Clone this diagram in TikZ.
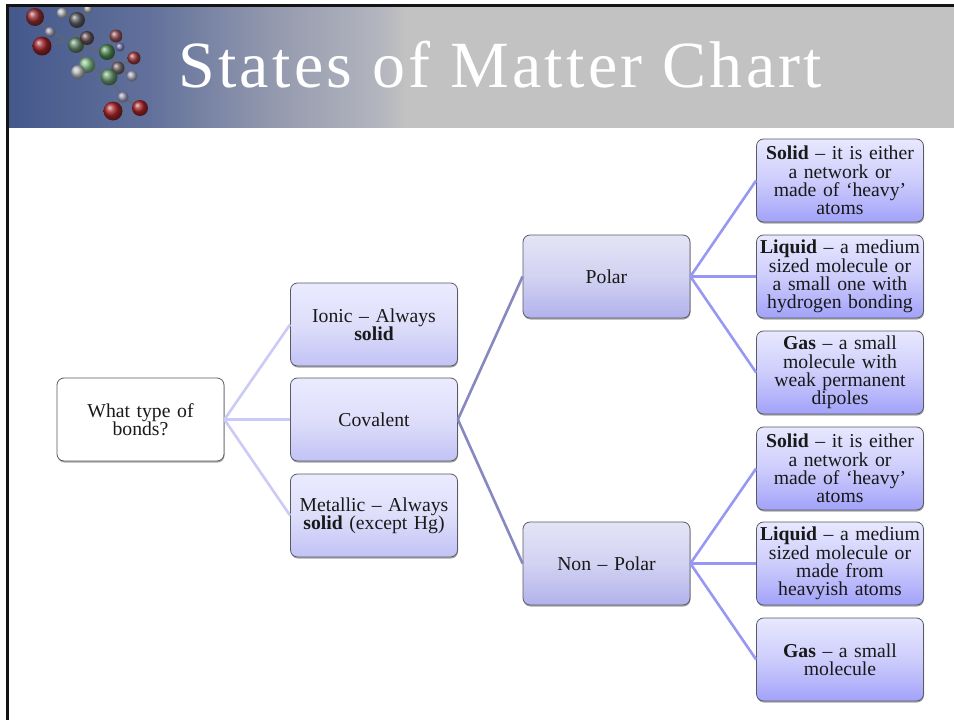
\documentclass[tikz,border=0pt]{standalone}
\usepackage{fontspec}
\setmainfont{Liberation Serif}
\usetikzlibrary{shadows,fadings}
\definecolor{hdrA}{RGB}{68,88,140}
\definecolor{hdrM}{RGB}{98,113,155}
\definecolor{hdrN}{RGB}{150,155,175}
\definecolor{hdrO}{RGB}{178,180,190}
\definecolor{hdrB}{RGB}{194,194,194}
\definecolor{lineA}{RGB}{203,203,246}
\definecolor{lineB}{RGB}{136,136,192}
\definecolor{lineC}{RGB}{152,152,244}
\definecolor{edgeK}{RGB}{90,90,100}
\pgfdeclarehorizontalshading{hdrshade}{100bp}{
 color(0bp)=(hdrA); color(25bp)=(hdrA); color(32.5bp)=(hdrM); color(39.4bp)=(hdrN); color(44.5bp)=(hdrO); color(46bp)=(hdrB); color(100bp)=(hdrB)}
\tikzset{
 x=1pt,y=-1pt,
 boxbase/.style={rounded corners=7pt,draw=edgeK,line width=.8pt,minimum width=167pt,minimum height=83pt,align=center,inner sep=1pt,text width=164pt,font=\fontsize{19.7}{18.2}\selectfont,text=black!90,
   drop shadow={shadow xshift=0.5pt,shadow yshift=-1.5pt,opacity=.35,fill=black}},
 rootbox/.style={boxbase,fill=white},
 midbox/.style={boxbase,top color=blue!8!white,bottom color={rgb,255:red,194;green,194;blue,246},middle color={rgb,255:red,222;green,222;blue,250}},
 polbox/.style={boxbase,top color={rgb,255:red,228;green,228;blue,246},bottom color={rgb,255:red,178;green,178;blue,236},middle color={rgb,255:red,210;green,210;blue,242}},
 leafbox/.style={boxbase,top color={rgb,255:red,232;green,232;blue,255},bottom color={rgb,255:red,162;green,162;blue,250},middle color={rgb,255:red,205;green,205;blue,252}},
 linkA/.style={draw=lineA,line width=2.6pt},
 linkB/.style={draw=lineB,line width=2.6pt},
 linkC/.style={draw=lineC,line width=2.6pt},
}
\newcommand{\mball}[4]{\shade[ball color=#4,opacity=.92] (#1,#2) circle[radius=#3pt];}
\begin{document}
\begin{tikzpicture}
\useasboundingbox (0,0) rectangle (954,720);
\fill[white] (0,0) rectangle (954,720);
% header
\shade[shading=hdrshade] (8,6) rectangle (954,127.5);
% molecule
\draw[black!60,line width=2pt,opacity=.6] (36,18)--(50,32)--(76,45)--(107,52)--(118,68)--(109,77)--(87,65)--(76,45)
  (87,65)--(78,72) (118,68)--(134,58) (107,52)--(116,36) (118,68)--(132,76) (109,77)--(123,97)--(113,111) (123,97)--(140,108)
  (42,46)--(62,42) (77,20)--(62,13) (77,20)--(88,9) (77,20)--(76,45);
\mball{35}{17}{9}{red!55!black!85}
\mball{62}{13}{5.5}{gray!45}
\mball{77}{20}{8}{black!65}
\mball{88}{9}{4.5}{gray!55}
\mball{50}{32}{5.5}{blue!15!gray!65}
\mball{42}{46}{9.5}{red!60!black!90}
\mball{76}{45}{8}{green!25!black!60}
\mball{87}{38}{7}{red!15!black!70}
\mball{116}{36}{6.5}{red!40!black!70}
\mball{120}{47}{4.5}{blue!40!black!50}
\mball{107}{52}{8}{green!35!black!70}
\mball{134}{58}{6.5}{red!55!black!80}
\mball{87}{65}{8}{green!35!gray!70}
\mball{78}{72}{7}{gray!45}
\mball{118}{68}{6.5}{red!12!black!60}
\mball{109}{77}{8.5}{green!35!black!60}
\mball{132}{76}{5.5}{blue!12!gray!55}
\mball{123}{97}{5.5}{blue!20!gray!60}
\mball{113}{111}{9.5}{red!65!black!90}
\mball{140}{108}{8}{red!65!black!90}
% frame
\fill[black!92] (6,4) rectangle (954,7);
\fill[black!92] (6,4) rectangle (9,720);
% title
\node[text=white,anchor=base west,inner sep=0pt,font=\fontsize{66}{66}\selectfont] (title) at (178,87) {\addfontfeature{LetterSpace=5}States of Matter Chart};
% boxes
\node[rootbox] (root) at (140.5,419.5) {What type of\\bonds?};
\node[midbox] (ionic) at (374,324.5) {Ionic – Always\\\textbf{solid}};
\node[midbox] (cov) at (374,419.5) {Covalent};
\node[midbox] (met) at (374,515.5) {Metallic – Always\\\textbf{solid} (except Hg)};
\node[polbox] (pol) at (606.5,276.5) {Polar};
\node[polbox] (non) at (606.5,563.5) {Non – Polar};
\node[leafbox] (l1) at (840,180.5) {\textbf{Solid} – it is either\\a network  or\\made of ‘heavy’\\atoms};
\node[leafbox] (l2) at (840,276.5) {\textbf{Liquid} – a medium\\sized molecule or\\a small one with\\hydrogen bonding};
\node[leafbox] (l3) at (840,372.5) {\textbf{Gas} – a small\\molecule with\\weak permanent\\dipoles};
\node[leafbox] (l4) at (840,468.5) {\textbf{Solid} – it is either\\a network  or\\made of ‘heavy’\\atoms};
\node[leafbox] (l5) at (840,563.5) {\textbf{Liquid} – a medium\\sized molecule or\\made from\\heavyish atoms};
\node[leafbox] (l6) at (840,659.5) {\textbf{Gas} – a small\\molecule};
% connectors
\draw[linkA] (root.east)--(ionic.west);
\draw[linkA] (root.east)--(cov.west);
\draw[linkA] (root.east)--(met.west);
\draw[linkB] (cov.east)--(pol.west);
\draw[linkB] (cov.east)--(non.west);
\foreach \t in {l1,l2,l3}{\draw[linkC] (pol.east)--(\t.west);}
\foreach \t in {l4,l5,l6}{\draw[linkC] (non.east)--(\t.west);}
\end{tikzpicture}
\end{document}
